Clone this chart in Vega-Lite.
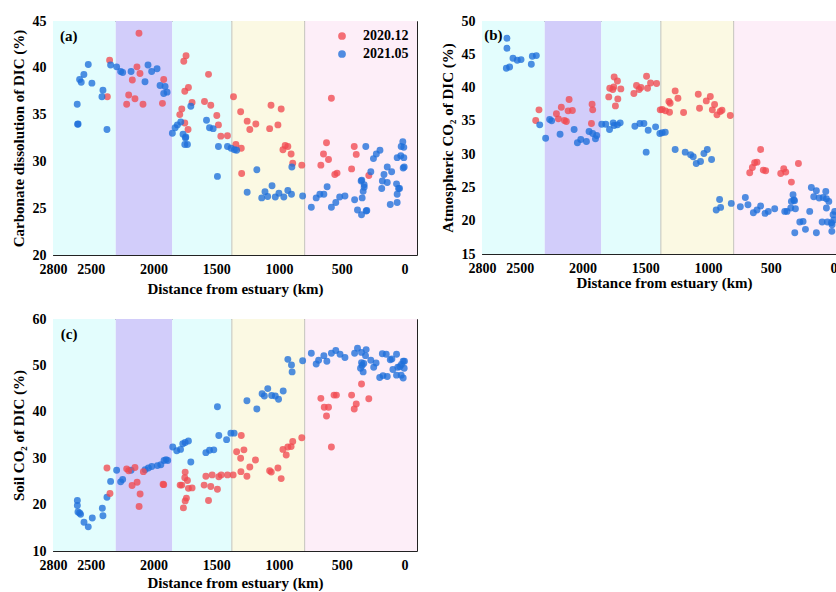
{
"$schema": "https://vega.github.io/schema/vega-lite/v6.json",
"background": "white",
"padding": {"left": 10, "top": 13, "right": 0, "bottom": 0},
"config": {
  "font": "Liberation Serif",
  "view": {"stroke": "#222", "strokeWidth": 1},
  "axis": {"labelFont": "Liberation Serif", "labelFontSize": 14, "labelFontWeight": "bold", "labelColor": "#000", "titleFont": "Liberation Serif", "titleFontSize": 15, "titleFontWeight": "bold", "titleColor": "#000", "grid": false, "domain": false, "tickColor": "#222", "tickSize": -5, "labelPadding": 12, "labelOverlap": false, "labelFlush": false, "format": "d"},
  "legend": {"labelFont": "Liberation Serif", "labelFontSize": 14, "labelFontWeight": "bold", "labelColor": "#000"}
},
"datasets": {
  "bands": [{"x": 2800, "x2": 2300, "zone": "z1"}, {"x": 2300, "x2": 1850, "zone": "z2"}, {"x": 1850, "x2": 1375, "zone": "z3"}, {"x": 1375, "x2": 795, "zone": "z4"}, {"x": 795, "x2": -100, "zone": "z5"}],
  "edges": [{"x": 1375}, {"x": 795}],
  "labels": [{"p": "a", "x": 2744, "y": 43.4, "t": "(a)"}, {"p": "b", "x": 2783, "y": 47.9, "t": "(b)"}, {"p": "c", "x": 2738, "y": 56.8, "t": "(c)"}],
  "pts": [
{"p":"a","s":"2020.12","x":2115,"y":43.7},{"p":"a","s":"2020.12","x":2349,"y":40.8},{"p":"a","s":"2020.12","x":2131,"y":40.1},{"p":"a","s":"2020.12","x":2107,"y":39.4},{"p":"a","s":"2020.12","x":2168,"y":38.7},{"p":"a","s":"2020.12","x":2197,"y":37.1},{"p":"a","s":"2020.12","x":2147,"y":36.7},{"p":"a","s":"2020.12","x":2213,"y":36.1},{"p":"a","s":"2020.12","x":2083,"y":36.1},{"p":"a","s":"2020.12","x":2367,"y":36.9},{"p":"a","s":"2020.12","x":1918,"y":38.75},{"p":"a","s":"2020.12","x":1928,"y":36.2},{"p":"a","s":"2020.12","x":1758,"y":40.7},{"p":"a","s":"2020.12","x":1740,"y":41.3},{"p":"a","s":"2020.12","x":1561,"y":39.3},{"p":"a","s":"2020.12","x":1750,"y":37.5},{"p":"a","s":"2020.12","x":1721,"y":37.9},{"p":"a","s":"2020.12","x":1692,"y":36.3},{"p":"a","s":"2020.12","x":1774,"y":35.6},{"p":"a","s":"2020.12","x":1790,"y":35.0},{"p":"a","s":"2020.12","x":1750,"y":34.1},{"p":"a","s":"2020.12","x":1724,"y":33.4},{"p":"a","s":"2020.12","x":1593,"y":36.4},{"p":"a","s":"2020.12","x":1543,"y":36.0},{"p":"a","s":"2020.12","x":1495,"y":34.9},{"p":"a","s":"2020.12","x":1482,"y":33.9},{"p":"a","s":"2020.12","x":1463,"y":32.7},{"p":"a","s":"2020.12","x":1410,"y":32.75},{"p":"a","s":"2020.12","x":1362,"y":36.9},{"p":"a","s":"2020.12","x":1343,"y":31.8},
{"p":"a","s":"2020.12","x":1305,"y":35.3},{"p":"a","s":"2020.12","x":1253,"y":34.3},{"p":"a","s":"2020.12","x":1232,"y":33.4},{"p":"a","s":"2020.12","x":1184,"y":34.0},{"p":"a","s":"2020.12","x":1300,"y":31.4},{"p":"a","s":"2020.12","x":1297,"y":28.7},{"p":"a","s":"2020.12","x":1063,"y":36.0},{"p":"a","s":"2020.12","x":982,"y":35.6},{"p":"a","s":"2020.12","x":1074,"y":33.5},{"p":"a","s":"2020.12","x":1008,"y":33.9},{"p":"a","s":"2020.12","x":950,"y":31.7},{"p":"a","s":"2020.12","x":929,"y":31.6},{"p":"a","s":"2020.12","x":968,"y":31.25},{"p":"a","s":"2020.12","x":903,"y":30.8},{"p":"a","s":"2020.12","x":890,"y":29.8},{"p":"a","s":"2020.12","x":818,"y":29.6},{"p":"a","s":"2020.12","x":582,"y":36.75},{"p":"a","s":"2020.12","x":621,"y":32.0},{"p":"a","s":"2020.12","x":645,"y":30.8},{"p":"a","s":"2020.12","x":605,"y":30.2},{"p":"a","s":"2020.12","x":666,"y":29.6},{"p":"a","s":"2020.12","x":555,"y":28.6},{"p":"a","s":"2020.12","x":537,"y":28.75},{"p":"a","s":"2020.12","x":421,"y":29.2},{"p":"a","s":"2020.12","x":400,"y":31.6},{"p":"a","s":"2020.12","x":384,"y":30.75},{"p":"a","s":"2020.12","x":284,"y":28.5},
{"p":"a","s":"2021.05","x":2519,"y":40.36},{"p":"a","s":"2021.05","x":2554,"y":39.29},{"p":"a","s":"2021.05","x":2588,"y":38.75},{"p":"a","s":"2021.05","x":2575,"y":38.46},{"p":"a","s":"2021.05","x":2490,"y":38.36},{"p":"a","s":"2021.05","x":2402,"y":37.6},{"p":"a","s":"2021.05","x":2410,"y":36.9},{"p":"a","s":"2021.05","x":2607,"y":36.1},{"p":"a","s":"2021.05","x":2604,"y":33.96},{"p":"a","s":"2021.05","x":2600,"y":34.0},{"p":"a","s":"2021.05","x":2370,"y":33.4},{"p":"a","s":"2021.05","x":2341,"y":40.3},{"p":"a","s":"2021.05","x":2293,"y":40.1},{"p":"a","s":"2021.05","x":2261,"y":39.6},{"p":"a","s":"2021.05","x":2245,"y":39.5},{"p":"a","s":"2021.05","x":2178,"y":39.6},{"p":"a","s":"2021.05","x":2067,"y":38.5},{"p":"a","s":"2021.05","x":2043,"y":40.3},{"p":"a","s":"2021.05","x":2014,"y":39.6},{"p":"a","s":"2021.05","x":1971,"y":39.9},{"p":"a","s":"2021.05","x":1947,"y":38.1},{"p":"a","s":"2021.05","x":1907,"y":38.0},{"p":"a","s":"2021.05","x":1918,"y":37.25},{"p":"a","s":"2021.05","x":1891,"y":37.4},{"p":"a","s":"2021.05","x":1849,"y":33.0},{"p":"a","s":"2021.05","x":1827,"y":33.6},{"p":"a","s":"2021.05","x":1809,"y":33.9},{"p":"a","s":"2021.05","x":1782,"y":34.2},{"p":"a","s":"2021.05","x":1764,"y":32.9},{"p":"a","s":"2021.05","x":1742,"y":32.6},{"p":"a","s":"2021.05","x":1745,"y":32.5},{"p":"a","s":"2021.05","x":1750,"y":31.8},{"p":"a","s":"2021.05","x":1729,"y":31.8},{"p":"a","s":"2021.05","x":1702,"y":35.9},{"p":"a","s":"2021.05","x":1577,"y":34.4},{"p":"a","s":"2021.05","x":1553,"y":33.6},{"p":"a","s":"2021.05","x":1524,"y":33.5},{"p":"a","s":"2021.05","x":1482,"y":31.6},{"p":"a","s":"2021.05","x":1410,"y":31.6},{"p":"a","s":"2021.05","x":1381,"y":31.4},{"p":"a","s":"2021.05","x":1490,"y":28.4},{"p":"a","s":"2021.05","x":1354,"y":31.25},
{"p":"a","s":"2021.05","x":1337,"y":31.2},{"p":"a","s":"2021.05","x":1176,"y":29.1},{"p":"a","s":"2021.05","x":1253,"y":26.7},{"p":"a","s":"2021.05","x":1055,"y":27.4},{"p":"a","s":"2021.05","x":1137,"y":26.1},{"p":"a","s":"2021.05","x":1111,"y":26.75},{"p":"a","s":"2021.05","x":1090,"y":26.25},{"p":"a","s":"2021.05","x":1029,"y":26.2},{"p":"a","s":"2021.05","x":1000,"y":26.6},{"p":"a","s":"2021.05","x":961,"y":26.2},{"p":"a","s":"2021.05","x":929,"y":26.9},{"p":"a","s":"2021.05","x":900,"y":26.5},{"p":"a","s":"2021.05","x":897,"y":29.4},{"p":"a","s":"2021.05","x":811,"y":26.3},{"p":"a","s":"2021.05","x":742,"y":25.1},{"p":"a","s":"2021.05","x":703,"y":26.1},{"p":"a","s":"2021.05","x":674,"y":26.5},{"p":"a","s":"2021.05","x":642,"y":26.5},{"p":"a","s":"2021.05","x":616,"y":27.3},{"p":"a","s":"2021.05","x":582,"y":25.1},{"p":"a","s":"2021.05","x":547,"y":25.6},{"p":"a","s":"2021.05","x":516,"y":26.2},{"p":"a","s":"2021.05","x":474,"y":26.3},{"p":"a","s":"2021.05","x":397,"y":25.9},{"p":"a","s":"2021.05","x":374,"y":24.8},{"p":"a","s":"2021.05","x":342,"y":24.3},{"p":"a","s":"2021.05","x":305,"y":24.7},{"p":"a","s":"2021.05","x":300,"y":24.75},{"p":"a","s":"2021.05","x":337,"y":26.1},{"p":"a","s":"2021.05","x":329,"y":26.8},{"p":"a","s":"2021.05","x":321,"y":27.5},{"p":"a","s":"2021.05","x":345,"y":27.9},{"p":"a","s":"2021.05","x":340,"y":28.0},{"p":"a","s":"2021.05","x":321,"y":27.25},{"p":"a","s":"2021.05","x":308,"y":31.6},{"p":"a","s":"2021.05","x":268,"y":28.9},{"p":"a","s":"2021.05","x":247,"y":30.3},{"p":"a","s":"2021.05","x":224,"y":30.8},{"p":"a","s":"2021.05","x":195,"y":31.2},{"p":"a","s":"2021.05","x":163,"y":28.6},{"p":"a","s":"2021.05","x":137,"y":29.4},{"p":"a","s":"2021.05","x":102,"y":28.9},{"p":"a","s":"2021.05","x":176,"y":27.9},{"p":"a","s":"2021.05","x":181,"y":27.1},{"p":"a","s":"2021.05","x":137,"y":27.75},{"p":"a","s":"2021.05","x":113,"y":25.4},{"p":"a","s":"2021.05","x":58,"y":25.6},{"p":"a","s":"2021.05","x":63,"y":27.6},{"p":"a","s":"2021.05","x":47,"y":27.1},{"p":"a","s":"2021.05","x":58,"y":26.5},{"p":"a","s":"2021.05","x":39,"y":27.1},{"p":"a","s":"2021.05","x":58,"y":30.4},{"p":"a","s":"2021.05","x":29,"y":30.6},{"p":"a","s":"2021.05","x":13,"y":32.1},{"p":"a","s":"2021.05","x":26,"y":31.6},{"p":"a","s":"2021.05","x":5,"y":31.5},{"p":"a","s":"2021.05","x":5,"y":30.4},{"p":"a","s":"2021.05","x":2,"y":29.4},{"p":"a","s":"2021.05","x":10,"y":29.3},
{"p":"b","s":"2020.12","x":2346,"y":36.65},{"p":"b","s":"2020.12","x":2372,"y":35.06},{"p":"b","s":"2020.12","x":2207,"y":36.06},{"p":"b","s":"2020.12","x":2168,"y":37.05},{"p":"b","s":"2020.12","x":2191,"y":35.3},{"p":"b","s":"2020.12","x":2143,"y":35.06},{"p":"b","s":"2020.12","x":2128,"y":34.9},{"p":"b","s":"2020.12","x":2106,"y":38.2},{"p":"b","s":"2020.12","x":2114,"y":36.5},{"p":"b","s":"2020.12","x":2080,"y":36.55},{"p":"b","s":"2020.12","x":1923,"y":37.5},{"p":"b","s":"2020.12","x":1918,"y":36.65},{"p":"b","s":"2020.12","x":1928,"y":34.6},{"p":"b","s":"2020.12","x":1747,"y":41.6},{"p":"b","s":"2020.12","x":1721,"y":41.0},{"p":"b","s":"2020.12","x":1782,"y":39.9},{"p":"b","s":"2020.12","x":1758,"y":39.7},{"p":"b","s":"2020.12","x":1750,"y":40.1},{"p":"b","s":"2020.12","x":1694,"y":39.8},{"p":"b","s":"2020.12","x":1790,"y":38.6},{"p":"b","s":"2020.12","x":1718,"y":38.3},{"p":"b","s":"2020.12","x":1737,"y":37.25},{"p":"b","s":"2020.12","x":1590,"y":39.1},{"p":"b","s":"2020.12","x":1569,"y":40.3},{"p":"b","s":"2020.12","x":1548,"y":39.7},{"p":"b","s":"2020.12","x":1534,"y":40.0},{"p":"b","s":"2020.12","x":1489,"y":41.7},{"p":"b","s":"2020.12","x":1457,"y":40.7},{"p":"b","s":"2020.12","x":1481,"y":39.9},{"p":"b","s":"2020.12","x":1409,"y":40.6},{"p":"b","s":"2020.12","x":1380,"y":36.65},
{"p":"b","s":"2020.12","x":1364,"y":36.7},{"p":"b","s":"2020.12","x":1338,"y":36.5},{"p":"b","s":"2020.12","x":1306,"y":36.3},{"p":"b","s":"2020.12","x":1311,"y":37.9},{"p":"b","s":"2020.12","x":1301,"y":37.65},{"p":"b","s":"2020.12","x":1261,"y":39.5},{"p":"b","s":"2020.12","x":1239,"y":38.4},{"p":"b","s":"2020.12","x":1194,"y":36.25},{"p":"b","s":"2020.12","x":1077,"y":39.0},{"p":"b","s":"2020.12","x":1067,"y":36.9},{"p":"b","s":"2020.12","x":1013,"y":38.0},{"p":"b","s":"2020.12","x":981,"y":38.65},{"p":"b","s":"2020.12","x":965,"y":36.65},{"p":"b","s":"2020.12","x":947,"y":37.45},{"p":"b","s":"2020.12","x":928,"y":35.9},{"p":"b","s":"2020.12","x":902,"y":36.4},{"p":"b","s":"2020.12","x":888,"y":36.6},{"p":"b","s":"2020.12","x":822,"y":35.8},{"p":"b","s":"2020.12","x":580,"y":30.7},{"p":"b","s":"2020.12","x":628,"y":28.7},{"p":"b","s":"2020.12","x":609,"y":28.8},{"p":"b","s":"2020.12","x":646,"y":28.0},{"p":"b","s":"2020.12","x":667,"y":27.2},{"p":"b","s":"2020.12","x":559,"y":27.6},{"p":"b","s":"2020.12","x":540,"y":27.5},{"p":"b","s":"2020.12","x":420,"y":27.1},{"p":"b","s":"2020.12","x":396,"y":27.8},{"p":"b","s":"2020.12","x":380,"y":27.3},{"p":"b","s":"2020.12","x":335,"y":25.8},{"p":"b","s":"2020.12","x":279,"y":28.6},
{"p":"b","s":"2021.05","x":2601,"y":47.4},{"p":"b","s":"2021.05","x":2601,"y":45.9},{"p":"b","s":"2021.05","x":2553,"y":44.4},{"p":"b","s":"2021.05","x":2519,"y":44.1},{"p":"b","s":"2021.05","x":2489,"y":44.2},{"p":"b","s":"2021.05","x":2606,"y":42.9},{"p":"b","s":"2021.05","x":2580,"y":43.1},{"p":"b","s":"2021.05","x":2399,"y":44.7},{"p":"b","s":"2021.05","x":2367,"y":44.8},{"p":"b","s":"2021.05","x":2407,"y":43.5},{"p":"b","s":"2021.05","x":2340,"y":34.4},{"p":"b","s":"2021.05","x":2293,"y":32.4},{"p":"b","s":"2021.05","x":2261,"y":35.2},{"p":"b","s":"2021.05","x":2245,"y":35.0},{"p":"b","s":"2021.05","x":2178,"y":33.0},{"p":"b","s":"2021.05","x":2066,"y":33.7},{"p":"b","s":"2021.05","x":2040,"y":31.7},{"p":"b","s":"2021.05","x":2013,"y":32.2},{"p":"b","s":"2021.05","x":1968,"y":31.9},{"p":"b","s":"2021.05","x":1947,"y":33.4},{"p":"b","s":"2021.05","x":1918,"y":33.1},{"p":"b","s":"2021.05","x":1896,"y":32.3},{"p":"b","s":"2021.05","x":1886,"y":32.8},{"p":"b","s":"2021.05","x":1846,"y":34.5},{"p":"b","s":"2021.05","x":1814,"y":34.5},{"p":"b","s":"2021.05","x":1784,"y":33.7},{"p":"b","s":"2021.05","x":1755,"y":34.7},{"p":"b","s":"2021.05","x":1747,"y":34.3},{"p":"b","s":"2021.05","x":1721,"y":34.4},{"p":"b","s":"2021.05","x":1699,"y":34.7},{"p":"b","s":"2021.05","x":1582,"y":34.2},{"p":"b","s":"2021.05","x":1542,"y":34.6},{"p":"b","s":"2021.05","x":1510,"y":34.6},{"p":"b","s":"2021.05","x":1476,"y":33.6},{"p":"b","s":"2021.05","x":1417,"y":34.1},{"p":"b","s":"2021.05","x":1492,"y":30.3},{"p":"b","s":"2021.05","x":1383,"y":33.1},
{"p":"b","s":"2021.05","x":1364,"y":33.2},{"p":"b","s":"2021.05","x":1340,"y":33.3},{"p":"b","s":"2021.05","x":1261,"y":30.7},{"p":"b","s":"2021.05","x":1181,"y":30.3},{"p":"b","s":"2021.05","x":1138,"y":29.9},{"p":"b","s":"2021.05","x":1117,"y":29.6},{"p":"b","s":"2021.05","x":1093,"y":28.6},{"p":"b","s":"2021.05","x":1059,"y":28.9},{"p":"b","s":"2021.05","x":1032,"y":30.1},{"p":"b","s":"2021.05","x":1005,"y":30.7},{"p":"b","s":"2021.05","x":971,"y":29.2},{"p":"b","s":"2021.05","x":934,"y":21.6},{"p":"b","s":"2021.05","x":907,"y":23.2},{"p":"b","s":"2021.05","x":899,"y":22.0},{"p":"b","s":"2021.05","x":814,"y":22.6},{"p":"b","s":"2021.05","x":742,"y":22.1},{"p":"b","s":"2021.05","x":702,"y":23.5},{"p":"b","s":"2021.05","x":681,"y":22.4},{"p":"b","s":"2021.05","x":638,"y":21.2},{"p":"b","s":"2021.05","x":609,"y":21.6},{"p":"b","s":"2021.05","x":580,"y":22.2},{"p":"b","s":"2021.05","x":545,"y":21.1},{"p":"b","s":"2021.05","x":519,"y":21.4},{"p":"b","s":"2021.05","x":468,"y":21.8},{"p":"b","s":"2021.05","x":388,"y":21.4},{"p":"b","s":"2021.05","x":370,"y":21.4},{"p":"b","s":"2021.05","x":340,"y":21.9},{"p":"b","s":"2021.05","x":322,"y":23.9},{"p":"b","s":"2021.05","x":335,"y":22.9},{"p":"b","s":"2021.05","x":316,"y":23.1},{"p":"b","s":"2021.05","x":310,"y":23.0},{"p":"b","s":"2021.05","x":303,"y":21.8},{"p":"b","s":"2021.05","x":308,"y":18.2},{"p":"b","s":"2021.05","x":268,"y":19.8},{"p":"b","s":"2021.05","x":242,"y":19.9},{"p":"b","s":"2021.05","x":223,"y":18.7},{"p":"b","s":"2021.05","x":189,"y":21.4},{"p":"b","s":"2021.05","x":176,"y":25.0},{"p":"b","s":"2021.05","x":136,"y":24.5},{"p":"b","s":"2021.05","x":157,"y":23.6},{"p":"b","s":"2021.05","x":114,"y":23.4},{"p":"b","s":"2021.05","x":82,"y":23.5},{"p":"b","s":"2021.05","x":56,"y":23.3},{"p":"b","s":"2021.05","x":37,"y":22.9},{"p":"b","s":"2021.05","x":61,"y":24.4},{"p":"b","s":"2021.05","x":56,"y":21.9},{"p":"b","s":"2021.05","x":136,"y":18.2},{"p":"b","s":"2021.05","x":90,"y":19.8},{"p":"b","s":"2021.05","x":48,"y":19.8},{"p":"b","s":"2021.05","x":16,"y":19.7},{"p":"b","s":"2021.05","x":3,"y":20.9},{"p":"b","s":"2021.05","x":-3,"y":20.1},{"p":"b","s":"2021.05","x":11,"y":19.4},{"p":"b","s":"2021.05","x":13,"y":18.4},{"p":"b","s":"2021.05","x":-10,"y":21.4},
{"p":"c","s":"2021.05","x":2606,"y":20.9},{"p":"c","s":"2021.05","x":2606,"y":19.8},{"p":"c","s":"2021.05","x":2601,"y":18.4},{"p":"c","s":"2021.05","x":2580,"y":17.9},{"p":"c","s":"2021.05","x":2588,"y":18.2},{"p":"c","s":"2021.05","x":2553,"y":16.2},{"p":"c","s":"2021.05","x":2519,"y":15.2},{"p":"c","s":"2021.05","x":2487,"y":17.1},{"p":"c","s":"2021.05","x":2407,"y":19.2},{"p":"c","s":"2021.05","x":2402,"y":17.6},{"p":"c","s":"2021.05","x":2370,"y":21.6},{"p":"c","s":"2021.05","x":2341,"y":25.0},{"p":"c","s":"2021.05","x":2293,"y":27.4},{"p":"c","s":"2021.05","x":2261,"y":24.9},{"p":"c","s":"2021.05","x":2245,"y":25.4},{"p":"c","s":"2021.05","x":2178,"y":27.4},{"p":"c","s":"2021.05","x":2066,"y":27.5},{"p":"c","s":"2021.05","x":2040,"y":27.9},{"p":"c","s":"2021.05","x":2013,"y":28.2},{"p":"c","s":"2021.05","x":1968,"y":28.4},{"p":"c","s":"2021.05","x":1941,"y":28.6},{"p":"c","s":"2021.05","x":1915,"y":29.5},{"p":"c","s":"2021.05","x":1899,"y":29.7},{"p":"c","s":"2021.05","x":1886,"y":29.5},{"p":"c","s":"2021.05","x":1846,"y":32.4},{"p":"c","s":"2021.05","x":1814,"y":31.6},{"p":"c","s":"2021.05","x":1784,"y":31.9},{"p":"c","s":"2021.05","x":1766,"y":33.1},{"p":"c","s":"2021.05","x":1747,"y":33.4},{"p":"c","s":"2021.05","x":1721,"y":33.7},{"p":"c","s":"2021.05","x":1702,"y":29.2},{"p":"c","s":"2021.05","x":1582,"y":31.2},{"p":"c","s":"2021.05","x":1553,"y":31.7},{"p":"c","s":"2021.05","x":1519,"y":31.8},{"p":"c","s":"2021.05","x":1490,"y":41.1},{"p":"c","s":"2021.05","x":1479,"y":34.9},{"p":"c","s":"2021.05","x":1417,"y":34.0},{"p":"c","s":"2021.05","x":1383,"y":35.4},{"p":"c","s":"2021.05","x":1357,"y":35.4},
{"p":"c","s":"2021.05","x":1255,"y":42.4},{"p":"c","s":"2021.05","x":1176,"y":40.6},{"p":"c","s":"2021.05","x":1134,"y":43.9},{"p":"c","s":"2021.05","x":1116,"y":43.4},{"p":"c","s":"2021.05","x":1089,"y":45.0},{"p":"c","s":"2021.05","x":1058,"y":43.5},{"p":"c","s":"2021.05","x":1029,"y":43.4},{"p":"c","s":"2021.05","x":1003,"y":42.7},{"p":"c","s":"2021.05","x":966,"y":44.5},{"p":"c","s":"2021.05","x":929,"y":51.3},{"p":"c","s":"2021.05","x":900,"y":50.1},{"p":"c","s":"2021.05","x":895,"y":48.6},{"p":"c","s":"2021.05","x":811,"y":51.0},{"p":"c","s":"2021.05","x":742,"y":52.6},{"p":"c","s":"2021.05","x":703,"y":50.3},{"p":"c","s":"2021.05","x":684,"y":51.1},{"p":"c","s":"2021.05","x":642,"y":52.1},{"p":"c","s":"2021.05","x":618,"y":50.9},{"p":"c","s":"2021.05","x":582,"y":52.6},{"p":"c","s":"2021.05","x":547,"y":53.2},{"p":"c","s":"2021.05","x":513,"y":52.4},{"p":"c","s":"2021.05","x":474,"y":51.7},{"p":"c","s":"2021.05","x":397,"y":52.6},{"p":"c","s":"2021.05","x":374,"y":53.7},{"p":"c","s":"2021.05","x":342,"y":52.8},{"p":"c","s":"2021.05","x":305,"y":53.4},{"p":"c","s":"2021.05","x":310,"y":52.1},{"p":"c","s":"2021.05","x":342,"y":50.6},{"p":"c","s":"2021.05","x":337,"y":50.0},{"p":"c","s":"2021.05","x":324,"y":50.4},{"p":"c","s":"2021.05","x":329,"y":48.6},{"p":"c","s":"2021.05","x":350,"y":49.4},{"p":"c","s":"2021.05","x":268,"y":51.1},{"p":"c","s":"2021.05","x":245,"y":49.6},{"p":"c","s":"2021.05","x":226,"y":50.5},{"p":"c","s":"2021.05","x":197,"y":47.4},{"p":"c","s":"2021.05","x":171,"y":47.8},{"p":"c","s":"2021.05","x":137,"y":47.6},{"p":"c","s":"2021.05","x":176,"y":52.5},{"p":"c","s":"2021.05","x":145,"y":52.4},{"p":"c","s":"2021.05","x":113,"y":51.2},{"p":"c","s":"2021.05","x":100,"y":51.4},{"p":"c","s":"2021.05","x":92,"y":49.1},{"p":"c","s":"2021.05","x":63,"y":52.4},{"p":"c","s":"2021.05","x":53,"y":49.6},{"p":"c","s":"2021.05","x":63,"y":47.9},{"p":"c","s":"2021.05","x":24,"y":50.2},{"p":"c","s":"2021.05","x":10,"y":50.9},{"p":"c","s":"2021.05","x":2,"y":49.4},{"p":"c","s":"2021.05","x":10,"y":47.3},{"p":"c","s":"2021.05","x":26,"y":47.9},{"p":"c","s":"2021.05","x":0,"y":50.9},{"p":"c","s":"2021.05","x":37,"y":49.7},
{"p":"c","s":"2020.12","x":2370,"y":27.9},{"p":"c","s":"2020.12","x":2346,"y":22.4},{"p":"c","s":"2020.12","x":2213,"y":27.7},{"p":"c","s":"2020.12","x":2197,"y":27.3},{"p":"c","s":"2020.12","x":2147,"y":28.0},{"p":"c","s":"2020.12","x":2170,"y":24.1},{"p":"c","s":"2020.12","x":2130,"y":24.8},{"p":"c","s":"2020.12","x":2106,"y":22.3},{"p":"c","s":"2020.12","x":2114,"y":19.6},{"p":"c","s":"2020.12","x":2080,"y":27.1},{"p":"c","s":"2020.12","x":1923,"y":24.4},{"p":"c","s":"2020.12","x":1918,"y":24.3},{"p":"c","s":"2020.12","x":1787,"y":24.2},{"p":"c","s":"2020.12","x":1774,"y":24.2},{"p":"c","s":"2020.12","x":1747,"y":27.0},{"p":"c","s":"2020.12","x":1750,"y":25.8},{"p":"c","s":"2020.12","x":1729,"y":25.2},{"p":"c","s":"2020.12","x":1721,"y":23.5},{"p":"c","s":"2020.12","x":1692,"y":23.6},{"p":"c","s":"2020.12","x":1737,"y":21.4},{"p":"c","s":"2020.12","x":1747,"y":20.8},{"p":"c","s":"2020.12","x":1761,"y":19.3},{"p":"c","s":"2020.12","x":1582,"y":26.1},{"p":"c","s":"2020.12","x":1596,"y":24.2},{"p":"c","s":"2020.12","x":1543,"y":23.9},{"p":"c","s":"2020.12","x":1561,"y":20.9},{"p":"c","s":"2020.12","x":1532,"y":26.4},{"p":"c","s":"2020.12","x":1490,"y":23.3},{"p":"c","s":"2020.12","x":1479,"y":26.0},{"p":"c","s":"2020.12","x":1460,"y":26.4},{"p":"c","s":"2020.12","x":1410,"y":26.4},{"p":"c","s":"2020.12","x":1365,"y":26.4},{"p":"c","s":"2020.12","x":1337,"y":31.4},
{"p":"c","s":"2020.12","x":1300,"y":34.9},{"p":"c","s":"2020.12","x":1305,"y":30.0},{"p":"c","s":"2020.12","x":1279,"y":31.8},{"p":"c","s":"2020.12","x":1303,"y":27.1},{"p":"c","s":"2020.12","x":1255,"y":26.1},{"p":"c","s":"2020.12","x":1232,"y":28.1},{"p":"c","s":"2020.12","x":1187,"y":29.6},{"p":"c","s":"2020.12","x":1074,"y":27.3},{"p":"c","s":"2020.12","x":1061,"y":27.0},{"p":"c","s":"2020.12","x":1008,"y":27.9},{"p":"c","s":"2020.12","x":982,"y":25.6},{"p":"c","s":"2020.12","x":968,"y":31.9},{"p":"c","s":"2020.12","x":942,"y":30.7},{"p":"c","s":"2020.12","x":929,"y":32.4},{"p":"c","s":"2020.12","x":903,"y":32.5},{"p":"c","s":"2020.12","x":890,"y":33.6},{"p":"c","s":"2020.12","x":818,"y":34.4},{"p":"c","s":"2020.12","x":582,"y":32.4},{"p":"c","s":"2020.12","x":666,"y":42.9},{"p":"c","s":"2020.12","x":639,"y":41.0},{"p":"c","s":"2020.12","x":605,"y":41.0},{"p":"c","s":"2020.12","x":621,"y":39.1},{"p":"c","s":"2020.12","x":561,"y":43.6},{"p":"c","s":"2020.12","x":542,"y":43.6},{"p":"c","s":"2020.12","x":421,"y":43.6},{"p":"c","s":"2020.12","x":384,"y":41.7},{"p":"c","s":"2020.12","x":400,"y":40.6},{"p":"c","s":"2020.12","x":342,"y":46.0},{"p":"c","s":"2020.12","x":284,"y":42.8}
  ]
},
"spacing": 14,
"resolve": {"scale": {"color": "independent", "fill": "independent"}, "legend": {"color": "independent"}},
"vconcat": [
 {"hconcat": [
  {"width": 364, "height": 234,
   "encoding": {"x": {"field": "x", "type": "quantitative", "scale": {"domain": [-100, 2800], "reverse": true, "nice": false, "zero": false}, "axis": {"values": [2800, 2500, 2000, 1500, 1000, 500, 0], "title": "Distance from estuary (km)", "titlePadding": 5, "labelFlush": false, "labelOverlap": false}}},
   "layer": [
    {"data": {"name": "bands"}, "mark": {"type": "rect"}, "encoding": {"x2": {"field": "x2"}, "fill": {"field": "zone", "type": "nominal", "scale": {"domain": ["z1","z2","z3","z4","z5"], "range": ["#e3fdfd","#d2cdfa","#e3fdfd","#fbf9e3","#fdeef8"]}, "legend": null}}},
    {"data": {"name": "edges"}, "mark": {"type": "rule", "color": "#c4c4bc", "strokeWidth": 1}, "encoding": {}},
    {"data": {"name": "pts"}, "transform": [{"filter": "datum.p == 'a'"}], "mark": {"type": "circle", "size": 48, "opacity": 0.78},
     "encoding": {"y": {"field": "y", "type": "quantitative", "scale": {"domain": [20, 45], "nice": false, "zero": false}, "axis": {"values": [20, 25, 30, 35, 40, 45], "title": "Carbonate dissolution of DIC (%)", "titlePadding": 6, "labelOverlap": false, "labelFlush": false}},
      "color": {"field": "s", "type": "nominal", "scale": {"domain": ["2020.12", "2021.05"], "range": ["#f14a51", "#1f70da"]}, "legend": {"title": null, "orient": "top-right", "offset": 8, "symbolSize": 60, "symbolOpacity": 0.78, "symbolStrokeWidth": 0, "labelOffset": 14, "rowPadding": 4}}}},
    {"data": {"name": "labels"}, "transform": [{"filter": "datum.p == 'a'"}], "mark": {"type": "text", "align": "left", "baseline": "middle", "font": "Liberation Serif", "fontWeight": "bold", "fontSize": 15, "color": "#000"},
     "encoding": {"y": {"field": "y", "type": "quantitative", "axis": {"values": [20, 25, 30, 35, 40, 45], "title": "Carbonate dissolution of DIC (%)", "titlePadding": 6, "labelOverlap": false, "labelFlush": false}}, "text": {"field": "t"}}}
   ]},
  {"width": 364, "height": 233,
   "encoding": {"x": {"field": "x", "type": "quantitative", "scale": {"domain": [-100, 2800], "reverse": true, "nice": false, "zero": false}, "axis": {"values": [2800, 2500, 2000, 1500, 1000, 500, 0], "title": "Distance from estuary (km)", "titlePadding": 0, "labelFlush": false, "labelOverlap": false}}},
   "layer": [
    {"data": {"name": "bands"}, "mark": {"type": "rect"}, "encoding": {"x2": {"field": "x2"}, "fill": {"field": "zone", "type": "nominal", "scale": {"domain": ["z1","z2","z3","z4","z5"], "range": ["#e3fdfd","#d2cdfa","#e3fdfd","#fbf9e3","#fdeef8"]}, "legend": null}}},
    {"data": {"name": "edges"}, "mark": {"type": "rule", "color": "#c4c4bc", "strokeWidth": 1}, "encoding": {}},
    {"data": {"name": "pts"}, "transform": [{"filter": "datum.p == 'b'"}], "mark": {"type": "circle", "size": 48, "opacity": 0.78},
     "encoding": {"y": {"field": "y", "type": "quantitative", "scale": {"domain": [15, 50], "nice": false, "zero": false}, "axis": {"values": [15, 20, 25, 30, 35, 40, 45, 50], "title": "Atmospheric CO₂ of DIC (%)", "titlePadding": 6, "labelOverlap": false, "labelFlush": false}},
      "color": {"field": "s", "type": "nominal", "scale": {"domain": ["2020.12", "2021.05"], "range": ["#f14a51", "#1f70da"]}, "legend": null}}},
    {"data": {"name": "labels"}, "transform": [{"filter": "datum.p == 'b'"}], "mark": {"type": "text", "align": "left", "baseline": "middle", "font": "Liberation Serif", "fontWeight": "bold", "fontSize": 15, "color": "#000"},
     "encoding": {"y": {"field": "y", "type": "quantitative", "axis": {"values": [15, 20, 25, 30, 35, 40, 45, 50], "title": "Atmospheric CO₂ of DIC (%)", "titlePadding": 6, "labelOverlap": false, "labelFlush": false}}, "text": {"field": "t"}}}
   ]}
  ],
  "spacing": 21,
  "resolve": {"scale": {"color": "independent", "fill": "independent"}, "legend": {"color": "independent"}}
 },
 {"width": 364, "height": 232,
  "encoding": {"x": {"field": "x", "type": "quantitative", "scale": {"domain": [-100, 2800], "reverse": true, "nice": false, "zero": false}, "axis": {"values": [2800, 2500, 2000, 1500, 1000, 500, 0], "title": "Distance from estuary (km)", "titlePadding": 3, "labelFlush": false, "labelOverlap": false}}},
  "layer": [
    {"data": {"name": "bands"}, "mark": {"type": "rect"}, "encoding": {"x2": {"field": "x2"}, "fill": {"field": "zone", "type": "nominal", "scale": {"domain": ["z1","z2","z3","z4","z5"], "range": ["#e3fdfd","#d2cdfa","#e3fdfd","#fbf9e3","#fdeef8"]}, "legend": null}}},
    {"data": {"name": "edges"}, "mark": {"type": "rule", "color": "#c4c4bc", "strokeWidth": 1}, "encoding": {}},
    {"data": {"name": "pts"}, "transform": [{"filter": "datum.p == 'c'"}], "mark": {"type": "circle", "size": 48, "opacity": 0.78},
     "encoding": {"y": {"field": "y", "type": "quantitative", "scale": {"domain": [10, 60], "nice": false, "zero": false}, "axis": {"values": [10, 20, 30, 40, 50, 60], "title": "Soil CO₂ of DIC (%)", "titlePadding": 6, "labelOverlap": false, "labelFlush": false}},
      "color": {"field": "s", "type": "nominal", "scale": {"domain": ["2020.12", "2021.05"], "range": ["#f14a51", "#1f70da"]}, "legend": null}}},
    {"data": {"name": "labels"}, "transform": [{"filter": "datum.p == 'c'"}], "mark": {"type": "text", "align": "left", "baseline": "middle", "font": "Liberation Serif", "fontWeight": "bold", "fontSize": 15, "color": "#000"},
     "encoding": {"y": {"field": "y", "type": "quantitative", "axis": {"values": [10, 20, 30, 40, 50, 60], "title": "Soil CO₂ of DIC (%)", "titlePadding": 6, "labelOverlap": false, "labelFlush": false}}, "text": {"field": "t"}}}
  ]}
]
}
